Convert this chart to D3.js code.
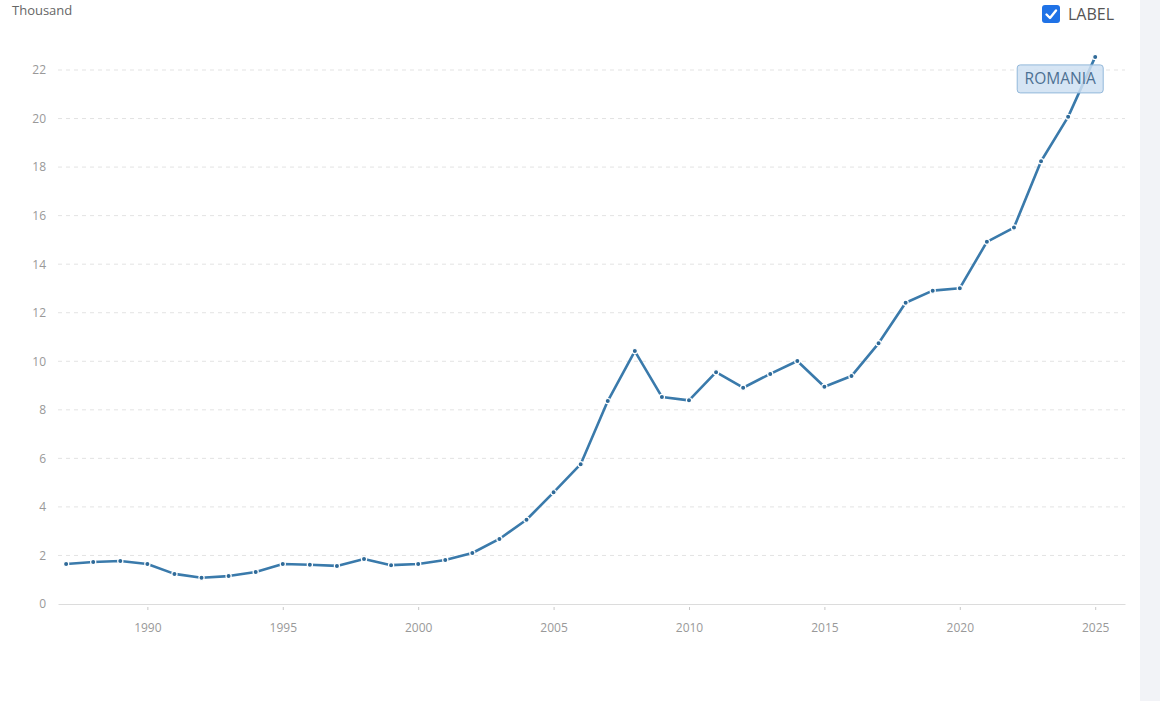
<!DOCTYPE html>
<html>
<head>
<meta charset="utf-8">
<script src="https://cdn.jsdelivr.net/npm/d3@7"></script>
<style>
  body { margin: 0; background: #fff; font-family: "Open Sans", sans-serif; }
  svg { display: block; }
</style>
</head>
<body>
<svg id="chart" width="1160" height="701"></svg>
<script>
// values (thousand)
var years = [1987, 1988, 1989, 1990, 1991, 1992, 1993, 1994, 1995, 1996,
	1997, 1998, 1999, 2000, 2001, 2002, 2003, 2004, 2005, 2006,
	2007, 2008, 2009, 2010, 2011, 2012, 2013, 2014, 2015, 2016,
	2017, 2018, 2019, 2020, 2021, 2022, 2023, 2024, 2025];
var values = [1.65, 1.73, 1.77, 1.65, 1.24, 1.08, 1.15, 1.32, 1.65, 1.62,
	1.57, 1.85, 1.60, 1.65, 1.81, 2.10, 2.68, 3.47, 4.60, 5.76,
	8.36, 10.42, 8.53, 8.39, 9.55, 8.91, 9.48, 10.01, 8.95, 9.39,
	10.74, 12.41, 12.91, 13.01, 14.92, 15.51, 18.24, 20.07, 22.54];
var yTicks = [0, 2, 4, 6, 8, 10, 12, 14, 16, 18, 20, 22];
var xTicks = [1990, 1995, 2000, 2005, 2010, 2015, 2020, 2025];
var seriesName = "ROMANIA";
var unitLabel = "Thousand";

var svg = d3.select("#chart");

// grey strip at the right edge
svg.append("rect")
	.attr("x", 1140).attr("y", 0)
	.attr("width", 20).attr("height", 701)
	.attr("fill", "#f2f3f7");

var x = d3.scaleLinear().domain([1986.7, 2026.1]).range([58, 1125]);
var y = d3.scaleLinear().domain([0, 22]).range([604, 70]);

// grid lines
svg.append("g")
	.selectAll("line.grid")
	.data(yTicks.filter(function(d) {return d > 0;}))
	.enter()
	.append("line")
		.attr("class", "grid")
		.attr("x1", 58).attr("x2", 1125)
		.attr("y1", function(d) {return y(d);})
		.attr("y2", function(d) {return y(d);})
		.attr("stroke", "#e3e3e3")
		.attr("stroke-dasharray", "4,4");

// y axis labels
var yAxis = svg.append("g")
	.attr("transform", "translate(58,0)")
	.call(d3.axisLeft(y).tickValues(yTicks).tickSize(0).tickPadding(12));
yAxis.select(".domain").remove();
yAxis.selectAll("text")
	.attr("fill", "#999")
	.style("font-size", "12px")
	.style("font-family", "Open Sans, sans-serif");

// x axis
var xAxis = svg.append("g")
	.attr("transform", "translate(0,604)")
	.call(d3.axisBottom(x).tickValues(xTicks).tickFormat(d3.format("d"))
		.tickSizeInner(6).tickSizeOuter(0).tickPadding(13));
xAxis.select(".domain").attr("stroke", "#dcdcdc");
xAxis.selectAll(".tick line")
	.attr("stroke", "#c8c8c8")
	.attr("y1", 3);
xAxis.selectAll("text")
	.attr("fill", "#999")
	.style("font-size", "12px")
	.style("font-family", "Open Sans, sans-serif");

// unit label
svg.append("text")
	.attr("x", 12).attr("y", 15)
	.attr("fill", "#666")
	.style("font-size", "13px")
	.text(unitLabel);

// line
var data = years.map(function(d, i) {return {year: d, value: values[i]};});
var line = d3.line()
	.x(function(d) {return x(d.year);})
	.y(function(d) {return y(d.value);});

svg.append("path")
	.datum(data)
	.attr("d", line)
	.attr("fill", "none")
	.attr("stroke", "#3a7aab")
	.attr("stroke-width", 2.6)
	.attr("stroke-linejoin", "round");

svg.append("g")
	.selectAll("circle")
	.data(data)
	.enter()
	.append("circle")
		.attr("cx", function(d) {return x(d.year);})
		.attr("cy", function(d) {return y(d.value);})
		.attr("r", 2.6)
		.attr("fill", "#2f6a98")
		.attr("stroke", "#fff")
		.attr("stroke-width", 1.2);

// series label box near the last point
var last = data[data.length - 1];
var lbl = svg.append("g")
	.attr("transform", "translate(" + (x(last.year) - 78) + "," + (y(last.value) + 8) + ")");
lbl.append("rect")
	.attr("width", 86).attr("height", 28)
	.attr("rx", 3)
	.attr("fill", "#cfe1f2")
	.attr("fill-opacity", 0.85)
	.attr("stroke", "#93b8da");
lbl.append("text")
	.attr("x", 43).attr("y", 19.5)
	.attr("text-anchor", "middle")
	.attr("fill", "#4d7193")
	.style("font-size", "15.5px")
	.text(seriesName);

// LABEL checkbox
var cb = svg.append("g").attr("transform", "translate(1042,5)");
cb.append("rect")
	.attr("width", 18).attr("height", 18)
	.attr("rx", 3)
	.attr("fill", "#1f72e6");
cb.append("path")
	.attr("d", "M4.5,9.5 L8,13 L14,5.5")
	.attr("fill", "none")
	.attr("stroke", "#fff")
	.attr("stroke-width", 2.4)
	.attr("stroke-linecap", "round")
	.attr("stroke-linejoin", "round");
svg.append("text")
	.attr("x", 1068).attr("y", 20)
	.attr("fill", "#555")
	.style("font-size", "16px")
	.text("LABEL");
</script>
</body>
</html>
